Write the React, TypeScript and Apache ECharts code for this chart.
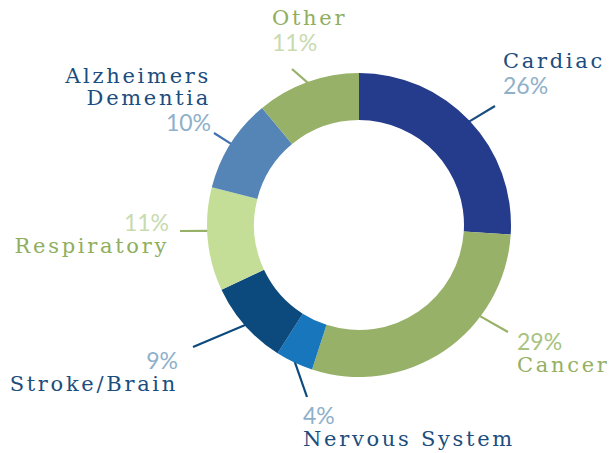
import React, { useEffect, useRef } from 'react';
import * as echarts from 'echarts';

// ---- data ----
const categories = ['Cardiac', 'Cancer', 'Nervous System', 'Stroke/Brain', 'Respiratory', 'Alzheimers Dementia', 'Other'];
const shares = [26, 29, 4, 9, 11, 10, 11];

// ---- styles ----
const sliceColors = ['#253b8b', '#97b168', '#1776bc', '#0c4a7e', '#c4de97', '#5585b6', '#97b168'];
const nameColors = ['#1b4d7e', '#95b064', '#1b4d7e', '#1b4d7e', '#8fae5e', '#1b4d7e', '#8fae5e'];
const pctColors = ['#8fb0ca', '#a9c382', '#8fb0ca', '#8fb0ca', '#c8dab0', '#8fb0ca', '#c8dab0'];
const lineColors = ['#1b4d7e', '#97b168', '#0c4a7e', '#0c4a7e', '#97b168', '#3f70b0', '#97b168'];

const CX = 359;
const CY = 225;
const R_IN = 105;
const R_OUT = 152;

type Spot = { x: number; y: number; align: 'left' | 'right'; pctFirst: boolean; wrap: boolean; end: number[]; frac: number };
const labelSpots: Spot[] = [
  { x: 503, y: 50, align: 'left', pctFirst: false, wrap: false, end: [495, 106], frac: 0.5 },
  { x: 517, y: 328, align: 'left', pctFirst: true, wrap: false, end: [508, 332], frac: 0.32 },
  { x: 303, y: 402, align: 'left', pctFirst: true, wrap: false, end: [307, 397], frac: 0.5 },
  { x: 178, y: 347, align: 'right', pctFirst: true, wrap: false, end: [193, 347], frac: 0.5 },
  { x: 169, y: 209, align: 'right', pctFirst: true, wrap: false, end: [180, 231], frac: 0.58 },
  { x: 211, y: 65, align: 'right', pctFirst: false, wrap: true, end: [214, 133], frac: 0.5 },
  { x: 272, y: 7, align: 'left', pctFirst: false, wrap: false, end: [292, 69], frac: 0.5 },
];

const NAME_FONT = 'DejaVu Serif';
const PCT_FONT = 'Lato';

export default function App() {
  const ref = useRef<HTMLDivElement>(null);

  useEffect(() => {
    if (!ref.current) return;
    const chart = echarts.init(ref.current, undefined, { renderer: 'svg' });
    const total = shares.reduce((a, b) => a + b, 0);

    const data = categories.map((name, i) => ({
      name,
      value: shares[i],
      itemStyle: { color: sliceColors[i] },
      labelLine: { lineStyle: { color: lineColors[i], width: 2.2 } },
      label: {
        rich: {
          n: { fontFamily: NAME_FONT, fontSize: 21, lineHeight: 22, color: nameColors[i] },
          p: { fontFamily: PCT_FONT, fontWeight: 400, fontSize: 23, lineHeight: 26, color: pctColors[i] },
        },
      },
    }));

    chart.setOption({
      animation: false,
      backgroundColor: '#ffffff',
      series: [
        {
          type: 'pie',
          center: [CX, CY],
          radius: [R_IN, R_OUT],
          startAngle: 90,
          clockwise: true,
          avoidLabelOverlap: false,
          silent: true,
          itemStyle: { borderWidth: 0 },
          label: {
            show: true,
            position: 'outside',
            formatter: (p: any) => {
              const s = labelSpots[p.dataIndex];
              const nm = s.wrap ? String(p.name).split(' ').map((w: string) => `{n|${w}}`).join('\n') : `{n|${p.name}}`;
              const pc = `{p|${p.value}%}`;
              return s.pctFirst ? `${pc}\n${nm}` : `${nm}\n${pc}`;
            },
          },
          labelLine: { show: true, length: 10, length2: 0 },
          labelLayout: (params: any) => {
            const i = params.dataIndex;
            const s = labelSpots[i];
            const before = shares.slice(0, i).reduce((a, b) => a + b, 0);
            const deg = 90 - ((before + shares[i] * s.frac) / total) * 360;
            const a = (deg * Math.PI) / 180;
            const start = [CX + (R_OUT - 1) * Math.cos(a), CY - (R_OUT - 1) * Math.sin(a)];
            return {
              x: s.x,
              y: s.y,
              align: s.align,
              verticalAlign: 'top',
              labelLinePoints: [start, s.end],
            };
          },
          data,
        },
      ],
    });
    return () => chart.dispose();
  }, []);

  return (
    <>
      <style>{`.pie-chart text[style*="DejaVu"]{letter-spacing:2.7px;}`}</style>
      <div
        ref={ref}
        className="pie-chart"
        style={{ position: 'absolute', left: 0, top: 0, width: 610, height: 453 }}
      />
    </>
  );
}
